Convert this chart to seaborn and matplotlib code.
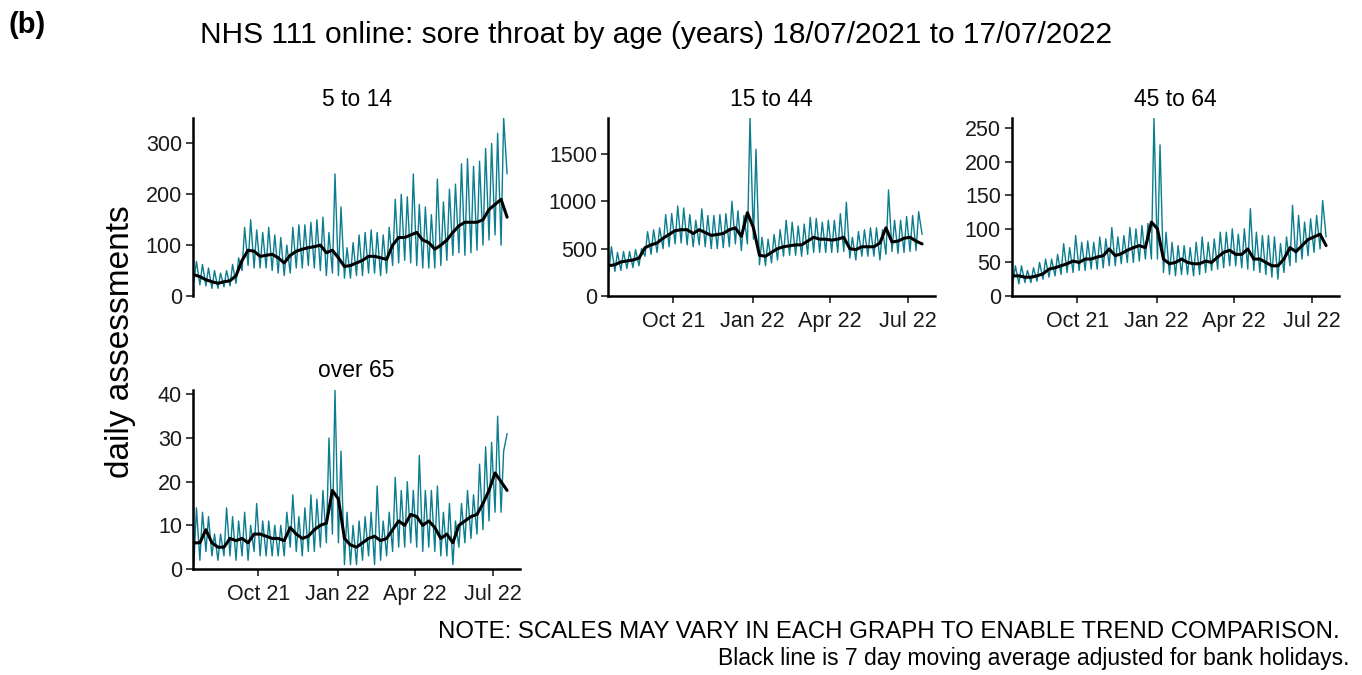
import pandas as pd
import matplotlib.pyplot as plt
import matplotlib.dates as mdates
from matplotlib.ticker import MultipleLocator
import seaborn as sns

sns.set_theme(style="ticks")
plt.rcParams['font.family'] = ['Liberation Sans', 'DejaVu Sans']
plt.rcParams['text.color'] = 'black'

# daily assessments, read off per week: weekly trough, weekly peak,
# and the 7 day moving average (last MA value is for 17/07/2022)
panels = ["5 to 14", "15 to 44", "45 to 64", "over 65"]

lo_5_14 = [28, 22, 20, 15, 15, 18, 20, 25, 50, 60, 55, 55, 55, 50, 45, 40, 45, 55,
           55, 60, 55, 50, 40, 45, 40, 35, 35, 40, 40, 45, 45, 40, 45, 60, 65, 70,
           65, 60, 55, 55, 55, 60, 70, 80, 85, 80, 85, 90, 100, 110, 120, 100]
hi_5_14 = [68, 62, 55, 50, 45, 50, 62, 75, 135, 150, 130, 125, 135, 120, 115, 100,
           135, 140, 140, 145, 150, 155, 125, 240, 175, 95, 105, 120, 125, 130, 125,
           120, 135, 190, 200, 195, 240, 180, 175, 160, 230, 185, 210, 220, 260, 270,
           255, 265, 290, 300, 320, 350]
ma_5_14 = [42, 38, 32, 28, 25, 28, 30, 40, 70, 90, 88, 78, 80, 82, 75, 65, 80, 88,
           92, 95, 97, 100, 85, 90, 75, 58, 60, 65, 70, 78, 78, 75, 72, 100, 115, 115,
           120, 125, 110, 105, 92, 100, 110, 125, 138, 145, 145, 145, 150, 170, 180,
           190, 155]

lo_15_44 = [250, 260, 270, 290, 300, 320, 420, 440, 460, 500, 520, 550, 560, 540,
            520, 540, 520, 500, 500, 510, 520, 550, 480, 550, 600, 330, 320, 350,
            380, 420, 430, 430, 420, 440, 460, 460, 460, 460, 460, 470, 400, 380,
            420, 420, 420, 380, 440, 470, 450, 460, 470, 480]
hi_15_44 = [520, 460, 470, 470, 490, 500, 680, 700, 720, 860, 870, 950, 930, 860,
            800, 920, 850, 850, 860, 870, 1000, 900, 850, 1880, 1550, 620, 600, 650,
            700, 800, 780, 740, 760, 830, 820, 780, 800, 800, 870, 990, 620, 680,
            700, 720, 720, 700, 1120, 800, 800, 840, 850, 890]
ma_15_44 = [320, 330, 360, 370, 380, 400, 510, 540, 560, 610, 650, 690, 700, 700,
            660, 700, 670, 640, 650, 660, 700, 720, 630, 880, 720, 430, 420, 460,
            500, 520, 530, 540, 540, 580, 620, 600, 600, 590, 600, 620, 500, 490,
            520, 520, 520, 560, 720, 570, 580, 610, 620, 580, 550]

lo_45_64 = [20, 18, 20, 20, 22, 25, 28, 30, 32, 35, 35, 38, 38, 40, 40, 42, 45, 45,
            48, 50, 50, 52, 55, 55, 55, 35, 32, 30, 32, 32, 30, 32, 35, 38, 40, 42,
            45, 45, 42, 40, 38, 35, 32, 28, 25, 35, 45, 50, 55, 60, 65, 70]
hi_45_64 = [45, 45, 38, 42, 50, 55, 55, 62, 78, 72, 90, 80, 82, 80, 88, 85, 102, 88,
            90, 102, 100, 105, 108, 265, 225, 95, 80, 75, 75, 72, 80, 88, 80, 85, 95,
            95, 100, 92, 100, 130, 95, 90, 90, 88, 78, 88, 135, 120, 110, 115, 120, 142]
ma_45_64 = [30, 30, 28, 28, 30, 33, 40, 42, 45, 48, 52, 50, 55, 55, 58, 60, 70, 60,
            63, 68, 72, 75, 72, 110, 100, 55, 48, 50, 55, 50, 48, 48, 52, 50, 58, 65,
            68, 62, 62, 70, 55, 55, 50, 45, 45, 55, 72, 66, 75, 84, 88, 92, 75]

lo_65 = [1, 2, 4, 3, 2, 3, 3, 2, 3, 2, 4, 3, 3, 3, 3, 3, 5, 4, 3, 4, 4, 5, 6, 8, 6,
         1, 1, 1, 2, 3, 1, 2, 3, 4, 5, 5, 6, 5, 4, 5, 4, 3, 3, 1, 5, 6, 7, 8, 9, 11,
         13, 13]
hi_65 = [14, 13, 12, 8, 8, 14, 12, 11, 13, 10, 15, 11, 11, 10, 10, 13, 17, 12, 14,
         17, 16, 18, 30, 41, 27, 13, 10, 11, 12, 13, 19, 11, 13, 21, 18, 20, 18, 26,
         18, 18, 19, 13, 15, 11, 15, 18, 17, 24, 28, 29, 35, 27]
ma_65 = [6, 6, 9, 6, 5, 5, 7, 6.5, 7, 6, 8, 8, 7.5, 7, 7, 6.5, 9.5, 8, 7, 7.5, 9, 10,
         10.5, 18, 16, 7, 5.5, 5, 6, 7, 7.5, 6.5, 7, 9, 11, 10, 12.5, 12, 10, 11, 9.5,
         7, 8, 6, 10, 11, 12, 12.5, 15, 18, 22, 20, 18]

last_day = [240, 650, 88, 31]

lows = [lo_5_14, lo_15_44, lo_45_64, lo_65]
highs = [hi_5_14, hi_15_44, hi_45_64, hi_65]
avgs = [ma_5_14, ma_15_44, ma_45_64, ma_65]
ysteps = [100, 500, 50, 10]

start = pd.Timestamp("2021-07-18")
end = pd.Timestamp("2022-07-17")
weeks = pd.date_range(start, periods=52, freq="7D")

teal = "#0b7d8f"

fig = plt.figure(figsize=(13.62, 6.75), dpi=100)
W, H = 1362, 675
boxes = [(193, 118, 327, 178), (608, 118, 327, 178), (1012, 118, 327, 178),
         (193, 390, 327, 179)]

for i, name in enumerate(panels):
    x0, y0, w, h = boxes[i]
    ax = fig.add_axes([x0 / W, 1 - (y0 + h) / H, w / W, h / H])

    daily = pd.concat([
        pd.DataFrame({"date": weeks, "n": lows[i]}),
        pd.DataFrame({"date": weeks + pd.Timedelta(days=3), "n": highs[i]}),
        pd.DataFrame({"date": [end], "n": [last_day[i]]}),
    ]).sort_values("date")
    ma = pd.DataFrame({"date": list(weeks) + [end], "n": avgs[i]})

    sns.lineplot(data=daily, x="date", y="n", ax=ax, color=teal, lw=1.0)
    sns.lineplot(data=ma, x="date", y="n", ax=ax, color="black", lw=2.2)

    ax.set_xlim(pd.Timestamp("2021-07-17"), pd.Timestamp("2022-08-01"))
    ax.set_ylim(0, max(highs[i] + [last_day[i]]))
    ax.yaxis.set_major_locator(MultipleLocator(ysteps[i]))
    ax.set_xticks(pd.to_datetime(["2021-10-01", "2022-01-01", "2022-04-01", "2022-07-01"]))
    ax.xaxis.set_major_formatter(mdates.DateFormatter("%b %y"))
    ax.set_xlabel("")
    ax.set_ylabel("")
    ax.set_title(name, fontsize=16.5, pad=9, color="black")
    sns.despine(ax=ax)
    for s in ["left", "bottom"]:
        ax.spines[s].set_linewidth(1.8)
        ax.spines[s].set_color("black")
    ax.tick_params(labelsize=15.5, length=5, width=1.3, color="#333333",
                   labelcolor="#1a1a1a", pad=3)
    ax.tick_params(axis="x", pad=6)
    if i == 0:
        ax.spines["bottom"].set_visible(False)
        ax.tick_params(axis="x", bottom=False, labelbottom=False)

fig.text(0.006, 0.963, "(b)", fontsize=21, fontweight="bold", va="center")
fig.text(656 / W, 1 - 35 / H,
         "NHS 111 online: sore throat by age (years) 18/07/2021 to 17/07/2022",
         fontsize=21.5, ha="center", va="center")
fig.text(120 / W, 1 - 342 / H, "daily assessments", rotation=90, fontsize=24,
         ha="center", va="center")
fig.text(1340 / W, 1 - 632 / H,
         "NOTE: SCALES MAY VARY IN EACH GRAPH TO ENABLE TREND COMPARISON.",
         fontsize=17.3, ha="right", va="center")
fig.text(1350 / W, 1 - 658 / H,
         "Black line is 7 day moving average adjusted for bank holidays.",
         fontsize=16.5, ha="right", va="center")

fig.savefig("out.png", dpi=100)
